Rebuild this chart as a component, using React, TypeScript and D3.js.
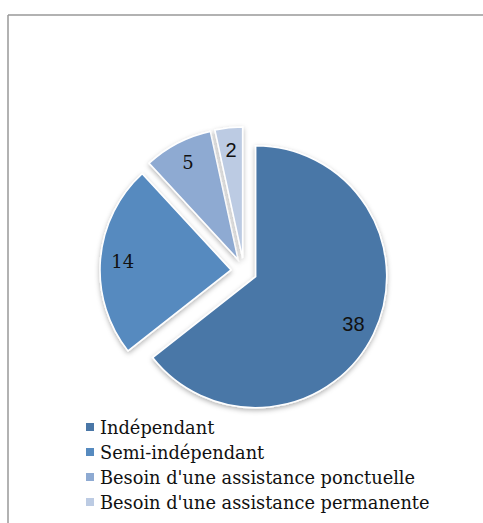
import React from "react";
import * as d3 from "d3";

const categories = [
  "Indépendant",
  "Semi-indépendant",
  "Besoin d'une assistance ponctuelle",
  "Besoin d'une assistance permanente",
];
const values = [38, 14, 5, 2];
const colors = ["#4a77a7", "#568abf", "#8eaad2", "#bccbe3"];

const W = 483;
const H = 523;

export default function App() {
  const cx = 244;
  const cy = 271;
  const r = 131;
  const explode = 13;
  const pie = d3.pie<number>().sort(null).value((d) => d);
  const arcs = pie(values);
  const arc = d3.arc<d3.PieArcDatum<number>>().innerRadius(0).outerRadius(r);
  const labelArc = d3
    .arc<d3.PieArcDatum<number>>()
    .innerRadius(r * 0.83)
    .outerRadius(r * 0.83);
  const labelFonts = [
    "Liberation Sans, Arial, sans-serif",
    "DejaVu Serif, serif",
    "DejaVu Serif, serif",
    "Liberation Sans, Arial, sans-serif",
  ];

  return (
    <svg
      width={W}
      height={H}
      style={{ position: "absolute", left: 0, top: 0 }}
    >
      <defs>
        <filter id="sh" x="-20%" y="-20%" width="140%" height="140%">
          <feDropShadow dx="0" dy="2" stdDeviation="2.5" floodColor="#000" floodOpacity="0.3" />
        </filter>
      </defs>
      <rect x={0} y={0} width={W} height={H} fill="#fff" />
      <line x1={8} y1={15} x2={W} y2={15} stroke="#999" strokeWidth={1.5} />
      <line x1={8} y1={15} x2={8} y2={H} stroke="#999" strokeWidth={1.5} />
      {arcs.map((a, i) => {
        const mid = (a.startAngle + a.endAngle) / 2;
        const dx = Math.sin(mid) * explode;
        const dy = -Math.cos(mid) * explode;
        return (
          <g key={i} transform={`translate(${cx + dx},${cy + dy})`}>
            <path
              d={arc(a) || ""}
              fill={colors[i]}
              stroke="#fff"
              strokeWidth={1.5}
              filter="url(#sh)"
            />
          </g>
        );
      })}
      {arcs.map((a, i) => {
        const mid = (a.startAngle + a.endAngle) / 2;
        const dx = Math.sin(mid) * explode;
        const dy = -Math.cos(mid) * explode;
        const [lx, ly] = labelArc.centroid(a);
        return (
          <text
            key={i}
            x={cx + dx + lx}
            y={cy + dy + ly}
            textAnchor="middle"
            dominantBaseline="central"
            fontSize={i === 0 || i === 3 ? 20 : 18}
            fontFamily={labelFonts[i]}
            fill="#111"
          >
            {values[i]}
          </text>
        );
      })}
      {categories.map((c, i) => (
        <g key={c} transform={`translate(86,${427 + i * 25})`}>
          <rect x={0} y={-4} width={8} height={8} fill={colors[i]} />
          <text
            x={14}
            y={0}
            dominantBaseline="central"
            fontSize={17.8}
            fontFamily="DejaVu Serif, serif"
            fill="#111"
          >
            {c}
          </text>
        </g>
      ))}
    </svg>
  );
}
